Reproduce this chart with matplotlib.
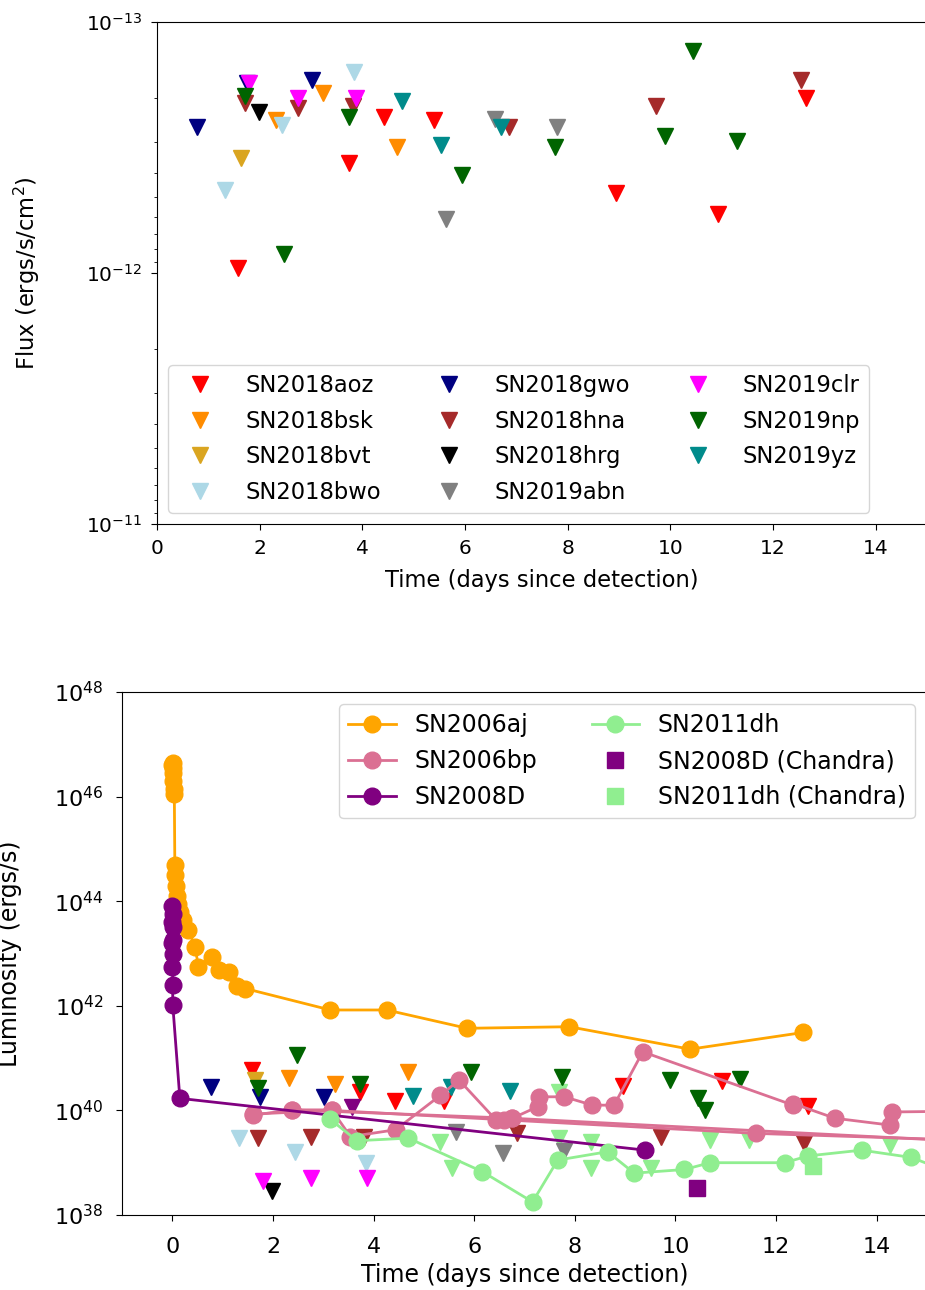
import numpy as np
import matplotlib
matplotlib.use('Agg')
from matplotlib import pyplot as plt

# ---- upper limits: time (days since detection), flux in 1e-13 erg/s/cm^2 ----
names = ['SN2018aoz', 'SN2018bsk', 'SN2018bvt', 'SN2018bwo', 'SN2018gwo', 'SN2018hna',
         'SN2018hrg', 'SN2019abn', 'SN2019clr', 'SN2019np', 'SN2019yz']
colors = ['red', 'darkorange', 'goldenrod', 'lightblue', 'navy', 'brown',
          'black', 'gray', 'magenta', 'darkgreen', 'darkcyan']
dist_mpc = [22.7, 37.7, 30.3, 7.26, 29.6, 10.9, 3.21, 7.26, 4.58, 33.6, 27.6]

aoz_t = [1.58, 3.74, 4.42, 5.40, 8.95, 10.93, 12.64]
aoz_f = [9.55, 3.66, 2.40, 2.45, 4.82, 5.82, 2.00]
bsk_t = [2.31, 3.24, 4.68]
bsk_f = [2.45, 1.91, 3.16]
bvt_t = [1.64]
bvt_f = [3.47]
bwo_t = [1.32, 2.44, 3.84]
bwo_f = [4.68, 2.57, 1.58]
gwo_t = [0.77, 1.75, 3.02]
gwo_f = [2.63, 1.75, 1.71]
hna_t = [1.71, 2.75, 3.81, 6.85, 9.72, 12.55]
hna_f = [2.11, 2.21, 2.16, 2.61, 2.16, 1.70]
hrg_t = [1.99]
hrg_f = [2.29]
abn_t = [5.63, 6.58, 7.79]
abn_f = [6.10, 2.43, 2.61]
clr_t = [1.80, 2.75, 3.87]
clr_f = [1.75, 2.00, 2.00]
np_t = [1.71, 2.48, 3.74, 5.94, 7.75, 9.90, 10.44, 10.58, 11.29]
np_f = [1.97, 8.39, 2.40, 4.07, 3.16, 2.84, 1.30, 0.74, 2.97]
yz_t = [4.78, 5.54, 6.71]
yz_f = [2.07, 3.09, 2.61]

times = [aoz_t, bsk_t, bvt_t, bwo_t, gwo_t, hna_t, hrg_t, abn_t, clr_t, np_t, yz_t]
fluxes = [aoz_f, bsk_f, bvt_f, bwo_f, gwo_f, hna_f, hrg_f, abn_f, clr_f, np_f, yz_f]

# ---- comparison light curves: log10 L (erg/s) ----
aj_t = [0.0, 0.005, 0.01, 0.015, 0.02, 0.03, 0.04, 0.05, 0.06, 0.08, 0.1, 0.12, 0.15,
        0.22, 0.32, 0.45, 0.52, 0.78, 0.92, 1.12, 1.28, 1.45, 3.14, 4.26, 5.86, 7.89,
        10.29, 12.54]
aj_L = [46.6, 46.65, 46.55, 46.45, 46.3, 46.15, 46.05, 44.7, 44.5, 44.3, 44.1, 43.95,
        43.8, 43.64, 43.45, 43.13, 42.75, 42.94, 42.68, 42.65, 42.37, 42.33, 41.92,
        41.92, 41.57, 41.60, 41.17, 41.49]

bp_t = [1.61, 2.38, 3.17, 3.54, 4.44, 5.33, 5.70, 6.43, 6.76, 7.26, 7.29, 7.79, 8.35,
        8.78, 9.35, 12.34, 12.34, 13.17, 14.26, 14.30, 17.0]
bp_L = [39.91, 40.01, 40.01, 39.50, 39.63, 40.29, 40.58, 39.82, 39.85, 40.07, 40.26,
        40.26, 40.10, 40.10, 41.12, 40.10, 40.13, 39.85, 39.72, 39.97, 40.0]
bp2_t = [1.61, 3.17, 6.60, 11.61, 20.0]
bp2_L = [39.93, 40.0, 39.82, 39.56, 39.30]
bp3_t = [2.38, 6.76, 20.0]
bp3_L = [40.01, 39.85, 39.20]

d8_t = [0.0, 0.001, 0.002, 0.003, 0.004, 0.005, 0.006, 0.007, 0.008, 0.009, 0.15, 9.40]
d8_L = [42.75, 43.2, 43.6, 43.9, 43.75, 43.5, 43.25, 43.0, 42.4, 42.02, 40.23, 39.24]
d8_ul_t = [3.57]
d8_ul_L = [40.07]

dh_t = [3.14, 3.67, 4.69, 6.16, 7.16, 7.66, 8.65, 9.18, 10.18, 10.69, 12.17, 12.64,
        13.70, 14.69, 15.5]
dh_L = [39.83, 39.42, 39.47, 38.83, 38.25, 39.05, 39.21, 38.80, 38.87, 39.00, 39.00,
        39.13, 39.24, 39.10, 38.8]
dh_ul_t = [5.33, 5.56, 7.69, 7.69, 8.32, 8.32, 9.52, 10.68, 11.47, 14.26]
dh_ul_L = [39.40, 38.89, 40.36, 39.47, 39.40, 38.89, 38.89, 39.43, 39.43, 39.34]

d8_chandra_t = [10.43]
d8_chandra_L = [38.51]
dh_chandra_t = [12.74]
dh_chandra_L = [38.93]

MPC = 3.0857e24

fig = plt.figure(figsize=(9.25, 12.9), dpi=100)
ax1 = fig.add_axes([157/925, 1-524/1290, (927-157)/925, (524-22)/1290])
ax2 = fig.add_axes([122/925, 1-1215/1290, (927-122)/925, (1215-692)/1290])

# top: flux upper limits
for name, c, t, f in zip(names, colors, times, fluxes):
    ax1.plot(t, np.array(f)*1e-13, 'v', color=c, ms=11.3, ls='none', label=name)
ax1.set_yscale('log')
ax1.set_ylim(1e-11, 1e-13)
ax1.set_xlim(0, 15)
ax1.set_xlabel('Time (days since detection)', fontsize=16.3, labelpad=8)
ax1.set_ylabel('Flux (ergs/s/cm$^2$)', fontsize=16.3)
ax1.yaxis.set_label_coords(-0.149, 0.5)
ax1.tick_params(labelsize=14.5, length=4.5, pad=6)
ax1.tick_params(which='minor', length=2.5)
ax1.legend(loc='lower left', ncol=3, fontsize=16.3, labelspacing=0.55,
           columnspacing=2.0, handletextpad=1.0)

# bottom: luminosity
ax2.plot(dh_ul_t, 10**np.array(dh_ul_L), 'v', color='lightgreen', ms=11.3, ls='none')
for c, t, f, d in zip(colors, times, fluxes, dist_mpc):
    lum = 4*np.pi*(d*MPC)**2*np.array(f)*1e-13
    ax2.plot(t, lum, 'v', color=c, ms=11.3, ls='none')
ax2.plot(d8_ul_t, 10**np.array(d8_ul_L), 'v', color='purple', ms=11.3, ls='none')

h_aj, = ax2.plot(aj_t, 10**np.array(aj_L), '-o', color='orange', ms=12, lw=2, label='SN2006aj')
h_bp, = ax2.plot(bp_t, 10**np.array(bp_L), '-o', color='palevioletred', ms=12, lw=2, label='SN2006bp')
ax2.plot(bp2_t, 10**np.array(bp2_L), '-o', color='palevioletred', ms=12, lw=2)
ax2.plot(bp3_t, 10**np.array(bp3_L), '-o', color='palevioletred', ms=12, lw=2)
h_d8, = ax2.plot(d8_t, 10**np.array(d8_L), '-o', color='purple', ms=12, lw=2, label='SN2008D')
h_dh, = ax2.plot(dh_t, 10**np.array(dh_L), '-o', color='lightgreen', ms=12, lw=2, label='SN2011dh')
h_d8c, = ax2.plot(d8_chandra_t, 10**np.array(d8_chandra_L), 's', color='purple', ms=12,
                  ls='none', label='SN2008D (Chandra)')
h_dhc, = ax2.plot(dh_chandra_t, 10**np.array(dh_chandra_L), 's', color='lightgreen', ms=12,
                  ls='none', label='SN2011dh (Chandra)')
ax2.set_yscale('log')
ax2.set_ylim(1e38, 1e48)
ax2.set_xlim(-1, 15)
ax2.set_xlabel('Time (days since detection)', fontsize=17, labelpad=5)
ax2.set_ylabel('Luminosity (ergs/s)', fontsize=17)
ax2.yaxis.set_label_coords(-0.124, 0.5)
ax2.tick_params(labelsize=16, length=4.5, pad=11)
ax2.tick_params(axis='y', pad=9)
ax2.legend(handles=[h_aj, h_bp, h_d8, h_dh, h_d8c, h_dhc], loc='upper right', ncol=2,
           fontsize=17, columnspacing=2.3)

fig.savefig('out.png', dpi=100)
